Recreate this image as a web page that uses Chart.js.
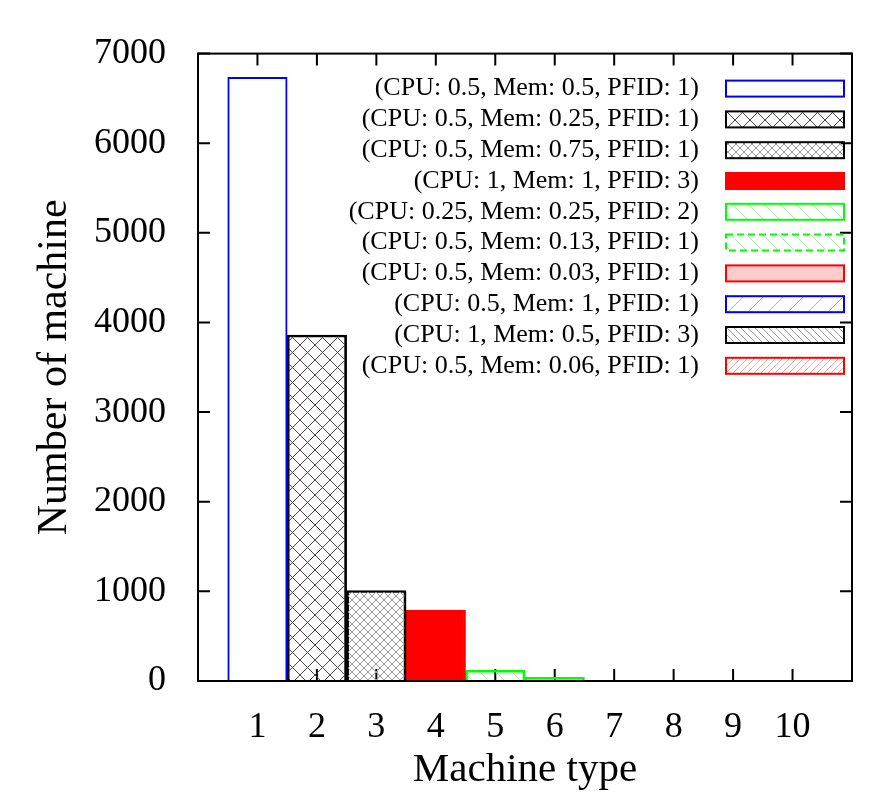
<!DOCTYPE html>
<html>
<head>
<meta charset="utf-8">
<script src="https://cdn.jsdelivr.net/npm/chart.js@4.4.1/dist/chart.umd.min.js"></script>
<style>
  body { margin: 0; background: #fff; }
  #wrap { width: 881px; height: 804px; }
</style>
</head>
<body>
<div id="wrap"><canvas id="machines" width="881" height="804"></canvas></div>
<script>
// values
const machineTypes = [1, 2, 3, 4, 5, 6, 7, 8, 9, 10];
const machineCounts = [6735, 3860, 1010, 790, 120, 40, 4, 2, 2, 1];
const configLabels = [
  '(CPU: 0.5, Mem: 0.5, PFID: 1)',
  '(CPU: 0.5, Mem: 0.25, PFID: 1)',
  '(CPU: 0.5, Mem: 0.75, PFID: 1)',
  '(CPU: 1, Mem: 1, PFID: 3)',
  '(CPU: 0.25, Mem: 0.25, PFID: 2)',
  '(CPU: 0.5, Mem: 0.13, PFID: 1)',
  '(CPU: 0.5, Mem: 0.03, PFID: 1)',
  '(CPU: 0.5, Mem: 1, PFID: 1)',
  '(CPU: 1, Mem: 0.5, PFID: 3)',
  '(CPU: 0.5, Mem: 0.06, PFID: 1)'
];
const yTicks = [0, 1000, 2000, 3000, 4000, 5000, 6000, 7000];

const serif = "'Liberation Serif', 'Times New Roman', serif";
const canvas = document.getElementById('machines');
const mainCtx = canvas.getContext('2d');

// gnuplot-ish hatch fills
const hatch = (size, color, dirs, width) => {
  const c = document.createElement('canvas');
  c.width = size; c.height = size;
  const g = c.getContext('2d');
  g.strokeStyle = color;
  g.lineWidth = width || 1;
  dirs.forEach(d => {
    g.beginPath();
    if (d === '\\') {
      g.moveTo(-1, -1); g.lineTo(size + 1, size + 1);
      g.moveTo(size - 1, -1); g.lineTo(size + 1, 1);
      g.moveTo(-1, size - 1); g.lineTo(1, size + 1);
    } else {
      g.moveTo(-1, size + 1); g.lineTo(size + 1, -1);
      g.moveTo(-1, 1); g.lineTo(1, -1);
      g.moveTo(size - 1, size + 1); g.lineTo(size + 1, size - 1);
    }
    g.stroke();
  });
  return mainCtx.createPattern(c, 'repeat');
};

const barStyles = [
  { border: '#0000ff', fill: '#ffffff' },
  { border: '#000000', fill: hatch(15, '#444444', ['\\', '/']) },
  { border: '#000000', fill: hatch(8, '#999999', ['\\', '/']) },
  { border: '#ff0000', fill: '#ff0000' },
  { border: '#00ff00', fill: hatch(16, '#a8f0a8', ['\\']) },
  { border: '#00ff00', fill: hatch(16, '#a8f0a8', ['\\']), dash: [7, 4] },
  { border: '#ff0000', fill: '#ffcccc' },
  { border: '#0000ff', fill: hatch(20, '#a8a8ff', ['/']) },
  { border: '#000000', fill: hatch(7, '#999999', ['\\']) },
  { border: '#ff0000', fill: hatch(7, '#ffa8a8', ['/']) }
];

const datasets = machineTypes.map((t, i) => ({
  label: configLabels[i],
  data: [{ x: t, y: machineCounts[i] }],
  backgroundColor: barStyles[i].fill,
  borderColor: barStyles[i].border,
  borderWidth: 2,
  legendDash: barStyles[i].dash || [],
  grouped: false,
  categoryPercentage: 1,
  barPercentage: 1
}));

// frame, inward ticks on all four sides, and the legend inside the plot
const frameAndLegend = {
  id: 'frameAndLegend',
  beforeDatasetsDraw(chart) {
    const { ctx, chartArea: a, scales: { x, y } } = chart;
    ctx.save();
    ctx.strokeStyle = '#000';
    ctx.lineWidth = 2;
    ctx.beginPath();
    machineTypes.forEach(t => {
      const px = x.getPixelForValue(t);
      ctx.moveTo(px, a.bottom); ctx.lineTo(px, a.bottom - 12);
      ctx.moveTo(px, a.top); ctx.lineTo(px, a.top + 12);
    });
    yTicks.forEach(v => {
      const py = y.getPixelForValue(v);
      ctx.moveTo(a.left, py); ctx.lineTo(a.left + 12, py);
      ctx.moveTo(a.right, py); ctx.lineTo(a.right - 12, py);
    });
    ctx.stroke();
    ctx.restore();
  },
  afterDatasetsDraw(chart) {
    const { ctx, chartArea: a } = chart;
    ctx.save();
    ctx.strokeStyle = '#000';
    ctx.lineWidth = 2;
    ctx.strokeRect(a.left, a.top, a.right - a.left, a.bottom - a.top);

    const bw = 118, bh = 16;
    const bx = a.right - 8 - bw;
    ctx.font = '26px ' + serif;
    ctx.textAlign = 'right';
    ctx.textBaseline = 'middle';
    chart.data.datasets.forEach((ds, i) => {
      const cy = a.top + 35 + i * 30.8;
      ctx.fillStyle = ds.backgroundColor;
      ctx.fillRect(bx, cy - bh / 2, bw, bh);
      ctx.setLineDash(ds.legendDash);
      ctx.strokeStyle = ds.borderColor;
      ctx.strokeRect(bx, cy - bh / 2, bw, bh);
      ctx.setLineDash([]);
      ctx.fillStyle = '#000';
      ctx.fillText(ds.label, bx - 27, cy);
    });
    ctx.restore();
  }
};

new Chart(canvas, {
  type: 'bar',
  data: { datasets: datasets },
  plugins: [frameAndLegend],
  options: {
    responsive: false,
    animation: false,
    layout: { padding: { top: 50, right: 29, left: 0, bottom: 0 } },
    plugins: {
      legend: { display: false },
      tooltip: { enabled: false }
    },
    scales: {
      x: {
        type: 'linear',
        min: 0,
        max: 11,
        offset: false,
        grid: { display: false, drawTicks: false },
        border: { display: false },
        ticks: {
          stepSize: 1,
          autoSkip: false,
          maxRotation: 0,
          padding: 25,
          color: '#000',
          font: { family: serif, size: 36 },
          callback: v => machineTypes.includes(v) ? String(v) : ''
        },
        title: {
          display: true,
          text: 'Machine type',
          color: '#000',
          font: { family: serif, size: 41 },
          padding: { top: 0, bottom: 9 }
        },
        afterFit: s => { s.height = 123; }
      },
      y: {
        min: 0,
        max: 7000,
        grid: { display: false, drawTicks: false },
        border: { display: false },
        ticks: {
          stepSize: 1000,
          padding: 32,
          color: '#000',
          font: { family: serif, size: 36 },
          callback: v => String(v)
        },
        title: {
          display: true,
          text: 'Number of machine',
          color: '#000',
          font: { family: serif, size: 42 },
          padding: { top: 30, bottom: 0 }
        },
        afterFit: s => { s.width = 198; }
      }
    }
  }
});
</script>
</body>
</html>
